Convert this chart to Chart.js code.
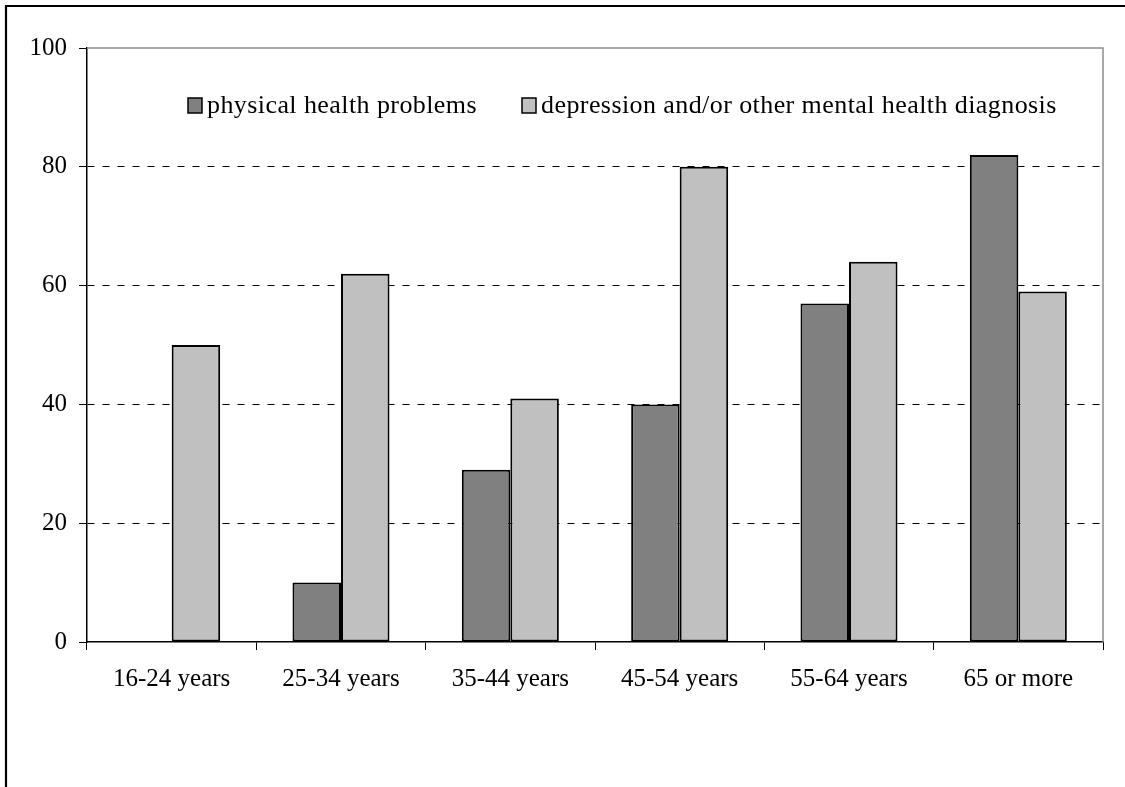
<!DOCTYPE html>
<html>
<head>
<meta charset="utf-8">
<script src="https://cdn.jsdelivr.net/npm/chart.js@4/dist/chart.umd.min.js"></script>
<style>
  html, body { margin: 0; padding: 0; background: #fff; }
  #wrap { width: 1125px; height: 787px; position: relative; }
</style>
</head>
<body>
<div id="wrap"><canvas id="c" width="1125" height="787"></canvas></div>
<script>
// Age groups and the share (%) reporting each condition
const categories = ['16-24 years', '25-34 years', '35-44 years', '45-54 years', '55-64 years', '65 or more'];
const physicalHealth = [0, 10, 29, 40, 57, 82];
const mentalHealth = [50, 62, 41, 80, 64, 59];
const seriesNames = ['physical health problems', 'depression and/or other mental health diagnosis'];
const yTicks = [0, 20, 40, 60, 80, 100];

const FONT = "'Liberation Serif', 'Times New Roman', serif";

// Outer frame and the grey top/right edges of the plot area
const framePlugin = {
  id: 'frame',
  beforeDraw(chart) {
    const ctx = chart.ctx;
    ctx.save();
    ctx.strokeStyle = '#000';
    ctx.lineWidth = 2.2;
    ctx.beginPath();
    ctx.moveTo(6, 800);
    ctx.lineTo(6, 6);
    ctx.lineTo(1140, 6);
    ctx.stroke();
    ctx.restore();
  },
  afterDraw(chart) {
    const { ctx, chartArea: a } = chart;
    ctx.save();
    ctx.strokeStyle = '#8c8c8c';
    ctx.lineWidth = 1.5;
    ctx.beginPath();
    ctx.moveTo(a.left, a.top);
    ctx.lineTo(a.right, a.top);
    ctx.lineTo(a.right, a.bottom);
    ctx.stroke();
    ctx.restore();
  }
};

// Legend drawn inside the plot area
const insideLegend = {
  id: 'insideLegend',
  afterDatasetsDraw(chart) {
    const ctx = chart.ctx;
    const items = [
      { box: 188, text: 207 },
      { box: 522, text: 541 }
    ];
    ctx.save();
    ctx.font = '26px ' + FONT;
    if ('letterSpacing' in ctx) ctx.letterSpacing = '0.42px';
    ctx.textBaseline = 'middle';
    chart.data.datasets.forEach((ds, i) => {
      const it = items[i];
      ctx.fillStyle = ds.backgroundColor;
      ctx.fillRect(it.box, 98, 14, 15);
      ctx.strokeStyle = '#000';
      ctx.lineWidth = 1.5;
      ctx.strokeRect(it.box, 98, 14, 15);
      ctx.fillStyle = '#000';
      ctx.fillText(ds.label, it.text, 106);
    });
    ctx.restore();
  }
};

new Chart(document.getElementById('c'), {
  type: 'bar',
  data: {
    labels: categories,
    datasets: [
      {
        label: seriesNames[0],
        data: physicalHealth,
        backgroundColor: '#808080',
        borderColor: '#000',
        borderWidth: 2,
        borderSkipped: false
      },
      {
        label: seriesNames[1],
        data: mentalHealth,
        backgroundColor: '#c0c0c0',
        borderColor: '#000',
        borderWidth: 2,
        borderSkipped: false
      }
    ]
  },
  options: {
    responsive: false,
    animation: false,
    devicePixelRatio: 1,
    layout: { padding: { top: 48, right: 22, left: 0, bottom: 0 } },
    datasets: { bar: { categoryPercentage: 0.573, barPercentage: 1.0 } },
    plugins: {
      legend: { display: false },
      tooltip: { enabled: false }
    },
    scales: {
      x: {
        offset: true,
        afterFit(scale) { scale.height = 145; },
        grid: {
          offset: true,
          drawOnChartArea: false,
          drawTicks: true,
          tickLength: 8,
          tickColor: '#000',
          tickWidth: 1
        },
        border: { display: true, color: '#000', width: 1.5 },
        ticks: {
          color: '#000',
          padding: 14,
          maxRotation: 0,
          autoSkip: false,
          font: { family: FONT, size: 25 }
        }
      },
      y: {
        min: 0,
        max: 100,
        afterFit(scale) { scale.width = 87; },
        afterBuildTicks(scale) { scale.ticks = yTicks.map(v => ({ value: v })); },
        grid: {
          drawTicks: true,
          tickLength: 8,
          tickColor: '#000',
          tickWidth: 1,
          lineWidth: 1,
          color: (c) => (c.tick && (c.tick.value === 0 || c.tick.value === 100)) ? 'rgba(0,0,0,0)' : '#000'
        },
        border: { display: true, color: '#000', width: 1.5, dash: [7, 8] },
        ticks: {
          color: '#000',
          padding: 12,
          font: { family: FONT, size: 25 }
        }
      }
    }
  },
  plugins: [framePlugin, insideLegend]
});
</script>
</body>
</html>
